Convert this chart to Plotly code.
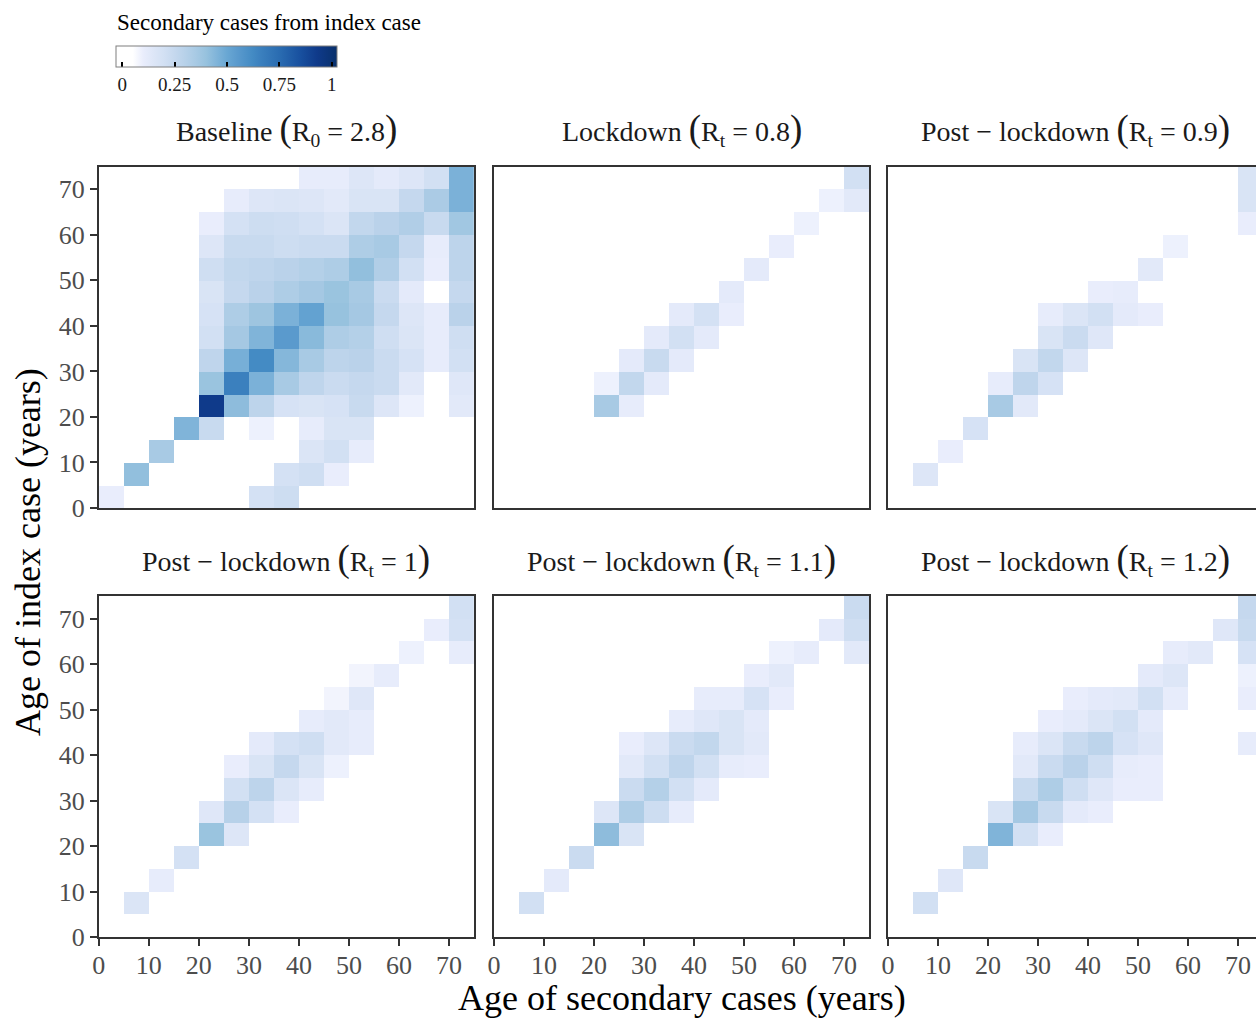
import plotly.graph_objects as go

W, H = 1256, 1019

# ---------------- data ----------------
age_bins = [2.5, 7.5, 12.5, 17.5, 22.5, 27.5, 32.5, 37.5, 42.5, 47.5, 52.5, 57.5, 62.5, 67.5, 72.5]
index_bins_top_down = age_bins[::-1]
tick_vals = [0, 10, 20, 30, 40, 50, 60, 70]
tick_text = ["0", "10", "20", "30", "40", "50", "60", "70"]
cbar_ticks = [0, 0.25, 0.5, 0.75, 1]
cbar_ticktext = ["0", "0.25", "0.5", "0.75", "1"]

# rows: index-case age 70-75 (top) down to 0-5 (bottom); columns: secondary age 0-5 ... 70-75
baseline = [
    [0, 0, 0, 0, 0, 0, 0, 0, .11, .11, .15, .12, .15, .20, .46],
    [0, 0, 0, 0, 0, .11, .15, .16, .15, .13, .17, .17, .25, .34, .46],
    [0, 0, 0, 0, .10, .19, .22, .21, .19, .16, .26, .29, .32, .24, .37],
    [0, 0, 0, 0, .15, .24, .24, .22, .23, .23, .33, .35, .25, .11, .28],
    [0, 0, 0, 0, .21, .26, .27, .29, .31, .33, .41, .32, .20, .10, .28],
    [0, 0, 0, 0, .17, .25, .29, .33, .36, .39, .35, .23, .12, 0, .25],
    [0, 0, 0, 0, .18, .33, .38, .46, .52, .40, .36, .25, .15, .11, .29],
    [0, 0, 0, 0, .20, .36, .45, .55, .43, .33, .31, .21, .16, .11, .21],
    [0, 0, 0, 0, .27, .47, .62, .44, .35, .28, .29, .23, .18, .11, .20],
    [0, 0, 0, 0, .39, .66, .46, .35, .27, .23, .25, .23, .13, 0, .14],
    [0, 0, 0, 0, .93, .42, .28, .18, .17, .18, .24, .15, .09, 0, .13],
    [0, 0, 0, .45, .24, 0, .09, 0, .11, .17, .17, 0, 0, 0, 0],
    [0, 0, .35, 0, 0, 0, 0, 0, .16, .20, .11, 0, 0, 0, 0],
    [0, .41, 0, 0, 0, 0, 0, .19, .21, .10, 0, 0, 0, 0, 0],
    [.10, 0, 0, 0, 0, 0, .19, .22, 0, 0, 0, 0, 0, 0, 0],
]

lockdown = [
    [0, 0, 0, 0, 0, 0, 0, 0, 0, 0, 0, 0, 0, 0, .20],
    [0, 0, 0, 0, 0, 0, 0, 0, 0, 0, 0, 0, 0, .09, .13],
    [0, 0, 0, 0, 0, 0, 0, 0, 0, 0, 0, 0, .09, 0, 0],
    [0, 0, 0, 0, 0, 0, 0, 0, 0, 0, 0, .10, 0, 0, 0],
    [0, 0, 0, 0, 0, 0, 0, 0, 0, 0, .12, 0, 0, 0, 0],
    [0, 0, 0, 0, 0, 0, 0, 0, 0, .12, 0, 0, 0, 0, 0],
    [0, 0, 0, 0, 0, 0, 0, .12, .19, .10, 0, 0, 0, 0, 0],
    [0, 0, 0, 0, 0, 0, .12, .20, .12, 0, 0, 0, 0, 0, 0],
    [0, 0, 0, 0, 0, .12, .24, .12, 0, 0, 0, 0, 0, 0, 0],
    [0, 0, 0, 0, .09, .26, .12, 0, 0, 0, 0, 0, 0, 0, 0],
    [0, 0, 0, 0, .35, .11, 0, 0, 0, 0, 0, 0, 0, 0, 0],
    [0, 0, 0, 0, 0, 0, 0, 0, 0, 0, 0, 0, 0, 0, 0],
    [0, 0, 0, 0, 0, 0, 0, 0, 0, 0, 0, 0, 0, 0, 0],
    [0, 0, 0, 0, 0, 0, 0, 0, 0, 0, 0, 0, 0, 0, 0],
    [0, 0, 0, 0, 0, 0, 0, 0, 0, 0, 0, 0, 0, 0, 0],
]

post_09 = [
    [0, 0, 0, 0, 0, 0, 0, 0, 0, 0, 0, 0, 0, 0, .17],
    [0, 0, 0, 0, 0, 0, 0, 0, 0, 0, 0, 0, 0, 0, .17],
    [0, 0, 0, 0, 0, 0, 0, 0, 0, 0, 0, 0, 0, 0, .10],
    [0, 0, 0, 0, 0, 0, 0, 0, 0, 0, 0, .09, 0, 0, 0],
    [0, 0, 0, 0, 0, 0, 0, 0, 0, 0, .13, 0, 0, 0, 0],
    [0, 0, 0, 0, 0, 0, 0, 0, .10, .11, 0, 0, 0, 0, 0],
    [0, 0, 0, 0, 0, 0, .11, .16, .20, .12, .10, 0, 0, 0, 0],
    [0, 0, 0, 0, 0, 0, .17, .23, .14, 0, 0, 0, 0, 0, 0],
    [0, 0, 0, 0, 0, .17, .26, .15, 0, 0, 0, 0, 0, 0, 0],
    [0, 0, 0, 0, .11, .27, .18, 0, 0, 0, 0, 0, 0, 0, 0],
    [0, 0, 0, 0, .35, .13, 0, 0, 0, 0, 0, 0, 0, 0, 0],
    [0, 0, 0, .18, 0, 0, 0, 0, 0, 0, 0, 0, 0, 0, 0],
    [0, 0, .10, 0, 0, 0, 0, 0, 0, 0, 0, 0, 0, 0, 0],
    [0, .15, 0, 0, 0, 0, 0, 0, 0, 0, 0, 0, 0, 0, 0],
    [0, 0, 0, 0, 0, 0, 0, 0, 0, 0, 0, 0, 0, 0, 0],
]

post_10 = [
    [0, 0, 0, 0, 0, 0, 0, 0, 0, 0, 0, 0, 0, 0, .20],
    [0, 0, 0, 0, 0, 0, 0, 0, 0, 0, 0, 0, 0, .10, .19],
    [0, 0, 0, 0, 0, 0, 0, 0, 0, 0, 0, 0, .09, 0, .11],
    [0, 0, 0, 0, 0, 0, 0, 0, 0, 0, .08, .11, 0, 0, 0],
    [0, 0, 0, 0, 0, 0, 0, 0, 0, .08, .14, 0, 0, 0, 0],
    [0, 0, 0, 0, 0, 0, 0, 0, .11, .13, .11, 0, 0, 0, 0],
    [0, 0, 0, 0, 0, 0, .12, .19, .21, .13, .11, 0, 0, 0, 0],
    [0, 0, 0, 0, 0, .10, .17, .25, .17, .09, 0, 0, 0, 0, 0],
    [0, 0, 0, 0, 0, .20, .28, .16, .11, 0, 0, 0, 0, 0, 0],
    [0, 0, 0, 0, .14, .30, .19, .10, 0, 0, 0, 0, 0, 0, 0],
    [0, 0, 0, 0, .39, .15, 0, 0, 0, 0, 0, 0, 0, 0, 0],
    [0, 0, 0, .19, 0, 0, 0, 0, 0, 0, 0, 0, 0, 0, 0],
    [0, 0, .11, 0, 0, 0, 0, 0, 0, 0, 0, 0, 0, 0, 0],
    [0, .16, 0, 0, 0, 0, 0, 0, 0, 0, 0, 0, 0, 0, 0],
    [0, 0, 0, 0, 0, 0, 0, 0, 0, 0, 0, 0, 0, 0, 0],
]

post_11 = [
    [0, 0, 0, 0, 0, 0, 0, 0, 0, 0, 0, 0, 0, 0, .23],
    [0, 0, 0, 0, 0, 0, 0, 0, 0, 0, 0, 0, 0, .12, .21],
    [0, 0, 0, 0, 0, 0, 0, 0, 0, 0, 0, .09, .11, 0, .13],
    [0, 0, 0, 0, 0, 0, 0, 0, 0, 0, .10, .13, 0, 0, 0],
    [0, 0, 0, 0, 0, 0, 0, 0, .11, .11, .18, .10, 0, 0, 0],
    [0, 0, 0, 0, 0, 0, 0, .11, .14, .17, .12, 0, 0, 0, 0],
    [0, 0, 0, 0, 0, .10, .15, .23, .26, .17, .13, 0, 0, 0, 0],
    [0, 0, 0, 0, 0, .13, .20, .27, .20, .11, .10, 0, 0, 0, 0],
    [0, 0, 0, 0, 0, .23, .31, .20, .12, 0, 0, 0, 0, 0, 0],
    [0, 0, 0, 0, .15, .33, .22, .11, 0, 0, 0, 0, 0, 0, 0],
    [0, 0, 0, 0, .42, .17, 0, 0, 0, 0, 0, 0, 0, 0, 0],
    [0, 0, 0, .23, 0, 0, 0, 0, 0, 0, 0, 0, 0, 0, 0],
    [0, 0, .12, 0, 0, 0, 0, 0, 0, 0, 0, 0, 0, 0, 0],
    [0, .20, 0, 0, 0, 0, 0, 0, 0, 0, 0, 0, 0, 0, 0],
    [0, 0, 0, 0, 0, 0, 0, 0, 0, 0, 0, 0, 0, 0, 0],
]

post_12 = [
    [0, 0, 0, 0, 0, 0, 0, 0, 0, 0, 0, 0, 0, 0, .25],
    [0, 0, 0, 0, 0, 0, 0, 0, 0, 0, 0, 0, 0, .14, .24],
    [0, 0, 0, 0, 0, 0, 0, 0, 0, 0, 0, .11, .13, 0, .18],
    [0, 0, 0, 0, 0, 0, 0, 0, 0, 0, .12, .15, 0, 0, .09],
    [0, 0, 0, 0, 0, 0, 0, .10, .12, .13, .20, .11, 0, 0, .10],
    [0, 0, 0, 0, 0, 0, .10, .12, .16, .20, .12, 0, 0, 0, 0],
    [0, 0, 0, 0, 0, .11, .16, .24, .28, .18, .14, 0, 0, 0, .11],
    [0, 0, 0, 0, 0, .13, .23, .29, .21, .11, .10, 0, 0, 0, 0],
    [0, 0, 0, 0, 0, .24, .33, .21, .14, .10, .10, 0, 0, 0, 0],
    [0, 0, 0, 0, .17, .36, .24, .12, .10, 0, 0, 0, 0, 0, 0],
    [0, 0, 0, 0, .45, .20, .10, 0, 0, 0, 0, 0, 0, 0, 0],
    [0, 0, 0, .24, 0, 0, 0, 0, 0, 0, 0, 0, 0, 0, 0],
    [0, 0, .14, 0, 0, 0, 0, 0, 0, 0, 0, 0, 0, 0, 0],
    [0, .20, 0, 0, 0, 0, 0, 0, 0, 0, 0, 0, 0, 0, 0],
    [0, 0, 0, 0, 0, 0, 0, 0, 0, 0, 0, 0, 0, 0, 0],
]

panels = [baseline, lockdown, post_09, post_10, post_11, post_12]

BIG = '<span style="font-size:37px">{}</span>'
panel_titles = [
    "Baseline " + BIG.format("(") + "R<sub>0</sub> = 2.8" + BIG.format(")"),
    "Lockdown " + BIG.format("(") + "R<sub>t</sub> = 0.8" + BIG.format(")"),
    "Post \u2212 lockdown " + BIG.format("(") + "R<sub>t</sub> = 0.9" + BIG.format(")"),
    "Post \u2212 lockdown " + BIG.format("(") + "R<sub>t</sub> = 1" + BIG.format(")"),
    "Post \u2212 lockdown " + BIG.format("(") + "R<sub>t</sub> = 1.1" + BIG.format(")"),
    "Post \u2212 lockdown " + BIG.format("(") + "R<sub>t</sub> = 1.2" + BIG.format(")"),
]

# ---------------- colour scale ----------------
CMIN, CMAX = -0.03, 1.025
scale_vals = [-0.03, 0.05, 0.10, 0.15, 0.20, 0.25, 0.30, 0.35, 0.40, 0.45, 0.50, 0.55, 0.62, 0.66, 0.75, 0.85, 0.93, 1.025]
scale_cols = ["#ffffff", "#ffffff", "#e9edfc", "#dde6f7", "#d2e0f3", "#c5d8ee", "#b7d1e9", "#a8cae4",
              "#97c2de", "#80b4d9", "#69a7d3", "#5a9acd", "#448bc4", "#3b80be", "#2a6cb1", "#18509f",
              "#0f3a8a", "#08306b"]
colorscale = [[(v - CMIN) / (CMAX - CMIN), c] for v, c in zip(scale_vals, scale_cols)]

# ---------------- layout geometry (pixels) ----------------
col_px = [(98.8, 474.0), (494.0, 869.0), (888.0, 1256.0)]
row_px = [(166.5, 508.0), (596.0, 937.0)]
PX_PER_UNIT = 5.0
CB_X0, CB_LEN, CB_TOP, CB_THICK = 116.0, 221.0, 46.0, 21.0

FONT = "Liberation Serif"
TICK_COLOR = "#4d4d4d"
LINE_COLOR = "#333333"

fig = go.Figure()
annotations = []
shapes = []

for i, z in enumerate(panels):
    r, c = divmod(i, 3)
    n = i + 1
    xa = "x" if n == 1 else f"x{n}"
    ya = "y" if n == 1 else f"y{n}"
    fig.add_trace(go.Heatmap(
        z=z, x=age_bins, y=index_bins_top_down,
        coloraxis="coloraxis", xaxis=xa, yaxis=ya,
        xgap=0, ygap=0, hoverinfo="skip",
    ))
    x0, x1 = col_px[c]
    y0, y1 = row_px[r]
    xmax = (x1 - x0) / PX_PER_UNIT if c == 2 else 75
    xkey = "xaxis" if n == 1 else f"xaxis{n}"
    ykey = "yaxis" if n == 1 else f"yaxis{n}"
    show_x = (r == 1)
    show_y = (c == 0)
    fig.update_layout(**{
        xkey: dict(
            domain=[x0 / W, x1 / W], anchor=ya, range=[0, xmax],
            showgrid=False, zeroline=False, automargin=False,
            showline=True, linecolor=LINE_COLOR, linewidth=1.5,
            mirror=True,
            tickmode="array", tickvals=tick_vals, ticktext=tick_text,
            ticks="outside" if show_x else "", ticklen=7, tickwidth=2, tickcolor=LINE_COLOR,
            showticklabels=show_x, ticklabelstandoff=-3,
            tickfont=dict(family=FONT, size=26, color=TICK_COLOR),
        ),
        ykey: dict(
            domain=[1 - y1 / H, 1 - y0 / H], anchor=xa, range=[0, 75],
            showgrid=False, zeroline=False, automargin=False,
            showline=True, linecolor=LINE_COLOR, linewidth=1.5,
            mirror=(c != 2),
            tickmode="array", tickvals=tick_vals, ticktext=tick_text,
            ticks="outside" if show_y else "", ticklen=7, tickwidth=2, tickcolor=LINE_COLOR,
            showticklabels=show_y,
            tickfont=dict(family=FONT, size=26, color=TICK_COLOR),
        ),
    })
    xc = (x0 + (x0 + 375)) / 2
    annotations.append(dict(
        text=panel_titles[i], x=xc / W, y=1 - (y0 - 37) / H,
        xref="paper", yref="paper", xanchor="center", yanchor="middle",
        showarrow=False, font=dict(family=FONT, size=28, color="#1a1a1a"),
    ))

annotations.append(dict(
    text="Age of secondary cases (years)", x=682 / W, y=1 - 998 / H,
    xref="paper", yref="paper", xanchor="center", yanchor="middle",
    showarrow=False, font=dict(family=FONT, size=36, color="black"),
))
annotations.append(dict(
    text="Age of index case (years)", x=28 / W, y=1 - 552 / H, textangle=-90,
    xref="paper", yref="paper", xanchor="center", yanchor="middle",
    showarrow=False, font=dict(family=FONT, size=36, color="black"),
))
annotations.append(dict(
    text="Secondary cases from index case", x=(CB_X0 - 1) / W, y=1 - 23 / H,
    xref="paper", yref="paper", xanchor="left", yanchor="middle",
    showarrow=False, font=dict(family=FONT, size=23, color="black"),
))

# upper tick marks of the colour bar (ggplot draws ticks on both edges)
for v in cbar_ticks:
    px = CB_X0 + (v - CMIN) / (CMAX - CMIN) * CB_LEN
    shapes.append(dict(type="line", xref="paper", yref="paper",
                       x0=px / W, x1=px / W, y0=1 - CB_TOP / H, y1=1 - (CB_TOP + 5) / H,
                       line=dict(color="black", width=2)))

fig.update_layout(
    width=W, height=H,
    margin=dict(l=0, r=0, t=0, b=0, pad=0, autoexpand=False),
    paper_bgcolor="white", plot_bgcolor="white",
    annotations=annotations,
    shapes=shapes,
    coloraxis=dict(
        colorscale=colorscale, cmin=CMIN, cmax=CMAX,
        colorbar=dict(
            orientation="h",
            x=CB_X0 / W, xanchor="left", y=1 - CB_TOP / H, yanchor="top",
            len=CB_LEN, lenmode="pixels", thickness=CB_THICK, thicknessmode="pixels",
            xpad=0, ypad=0,
            outlinewidth=1, outlinecolor="#7f7f7f",
            tickmode="array", tickvals=cbar_ticks, ticktext=cbar_ticktext,
            ticks="inside", ticklen=5, tickwidth=2, tickcolor="black",
            tickfont=dict(family=FONT, size=19, color="#1a1a1a"),
        ),
    ),
)

fig.write_html(
    "out.html",
    config={"displayModeBar": False},
    post_script="document.body.style.margin='0px';document.body.style.overflow='hidden';",
)
